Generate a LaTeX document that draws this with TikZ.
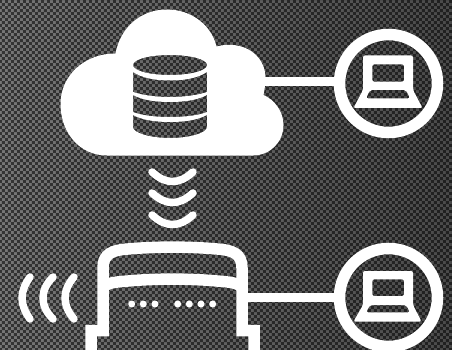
\documentclass[tikz,border=0pt]{standalone}
\usetikzlibrary{patterns}
\pgfdeclarepatternformonly{chk}{\pgfpointorigin}{\pgfqpoint{6.4pt}{6.4pt}}{\pgfqpoint{6.4pt}{6.4pt}}{
  \pgfpathrectangle{\pgfqpoint{0pt}{0pt}}{\pgfqpoint{3.2pt}{3.2pt}}
  \pgfpathrectangle{\pgfqpoint{3.2pt}{3.2pt}}{\pgfqpoint{3.2pt}{3.2pt}}
  \pgfusepath{fill}}
\definecolor{bgl}{HTML}{767676}
\definecolor{bgm}{HTML}{606060}
\definecolor{bgr}{HTML}{4A4A4A}
\tikzset{
  glyph/.style={fill=white,even odd rule,draw=none},
  wave/.style={draw=white,line width=7.5pt,line cap=round},
  wire/.style={draw=white,line width=9pt},
  ring/.style={circle,draw=white,line width=11.5pt,minimum size=98pt,inner sep=0pt,outer sep=0pt},
  outline/.style={draw=white,line width=11.5pt,miter limit=10},
  led/.style={circle,fill=white,minimum size=7pt,inner sep=0pt}
}
\begin{document}
\begin{tikzpicture}[x=1pt,y=-1pt]
\useasboundingbox (0,0) rectangle (452,350);
\shade[left color=bgl,middle color=bgm,right color=bgr] (0,0) rectangle (452,350);
\fill[pattern=chk,pattern color=black,fill opacity=.56] (0,0) rectangle (452,350);
\begin{scope}
\clip (0,0) rectangle (452,350);
% cloud + database
\path[glyph]
  (107,155.5)
  .. controls (79,155.5) and (60.5,132) .. (60.5,104)
  .. controls (60.5,76) and (84,53.5) .. (115.5,53.5)
  .. controls (120.5,27) and (141,9.5) .. (167,9.5)
  .. controls (191,9.5) and (211.5,25) .. (216.5,46.5)
  .. controls (243,39.5) and (265.5,55) .. (265.5,78)
  .. controls (265.5,84) and (264.5,90) .. (263.5,95)
  .. controls (275,100) and (283.5,112) .. (283.5,125)
  .. controls (283.5,142) and (270,155.5) .. (253,155.5)
  -- cycle
  (133,65) .. controls (133,59) and (150,55) .. (170,55) .. controls (190,55) and (207,59) .. (207,65)
  .. controls (207,71) and (190,75) .. (170,75) .. controls (150,75) and (133,71) .. (133,65) -- cycle
  (133,72) .. controls (142,78) and (155,80.5) .. (170,80.5) .. controls (185,80.5) and (198,78) .. (207,72)
  -- (207,92) .. controls (198,95) and (185,97) .. (170,97) .. controls (155,97) and (142,95) .. (133,92) -- cycle
  (133,95) .. controls (142,100) and (155,102) .. (170,102) .. controls (185,102) and (198,100) .. (207,95)
  -- (207,112) .. controls (198,115.5) and (185,117) .. (170,117) .. controls (155,117) and (142,115.5) .. (133,112) -- cycle
  (133,115) .. controls (142,120) and (155,122) .. (170,122) .. controls (185,122) and (198,120) .. (207,115)
  -- (207,127) .. controls (207,133) and (190,138) .. (170,138) .. controls (150,138) and (133,133) .. (133,127) -- cycle;
\coordinate (cloudedge) at (262,82);
% rings
\node[ring] (pc1) at (388.5,83.5) {};
\node[ring] (pc2) at (388.5,297.5) {};
% connectors
\coordinate (routeredge) at (242,297);
\draw[wire] (cloudedge) -- (pc1.west |- cloudedge);
\draw[wire] (routeredge) -- (pc2.west |- routeredge);
% laptops
\path[glyph,rounded corners=2pt]
  (363,55.5) -- (413,55.5) -- (413,90) -- (422.5,108) -- (353.5,108) -- (363,90) -- cycle
  (372.3,64.3) -- (404,64.3) -- (404,81.7) -- (372.3,81.7) -- cycle
  (370,90) -- (406,90) -- (410,98.3) -- (366,98.3) -- cycle;
\path[glyph,rounded corners=2pt]
  (363,271) -- (413,271) -- (413,305) -- (421.5,321.5) -- (353.5,321.5) -- (363,305) -- cycle
  (372.3,279.3) -- (404,279.3) -- (404,296) -- (372.3,296) -- cycle
  (370,305) -- (406,305) -- (410,312.3) -- (366,312.3) -- cycle;
% vertical waves
\draw[wave] (152,172) .. controls (160,179) and (166,181.5) .. (172.5,181.5) .. controls (179,181.5) and (185,179) .. (193,172);
\draw[wave] (152,193) .. controls (160,200) and (166,202.5) .. (172.5,202.5) .. controls (179,202.5) and (185,200) .. (193,193);
\draw[wave] (152,215) .. controls (160,222) and (166,224.5) .. (172.5,224.5) .. controls (179,224.5) and (185,222) .. (193,215);
% side waves
\draw[wave] (30,277) .. controls (25,284) and (22,291) .. (22,298) .. controls (22,305) and (25,312) .. (30,319);
\draw[wave] (53,277) .. controls (46,284) and (43,291) .. (43,298) .. controls (43,305) and (46,312) .. (53,319);
\draw[wave] (74,277) .. controls (68,284) and (65,291) .. (65,298) .. controls (65,305) and (68,312) .. (74,319);
% router
\draw[outline,line join=miter]
  (91,362) -- (91,330.5) -- (103,330.5) -- (103,268)
  .. controls (103,254) and (112,250) .. (128,249)
  .. controls (155,246.5) and (190,246.5) .. (217,249)
  .. controls (233,250) and (242,254) .. (242,268)
  -- (242,330.5) -- (254,330.5) -- (254,362);
\draw[draw=white,line width=11.5pt]
  (103,287) .. controls (108,283) and (114,282) .. (128,281)
  .. controls (155,278.5) and (190,278.5) .. (217,281)
  .. controls (231,282) and (237,283) .. (242,287);
\foreach \n/\px in {a/131.7,b/143.3,c/155,d/177.7,e/189.3,f/201,g/212.7}
  \node[led] (\n) at (\px,304) {};
\end{scope}
\end{tikzpicture}
\end{document}
